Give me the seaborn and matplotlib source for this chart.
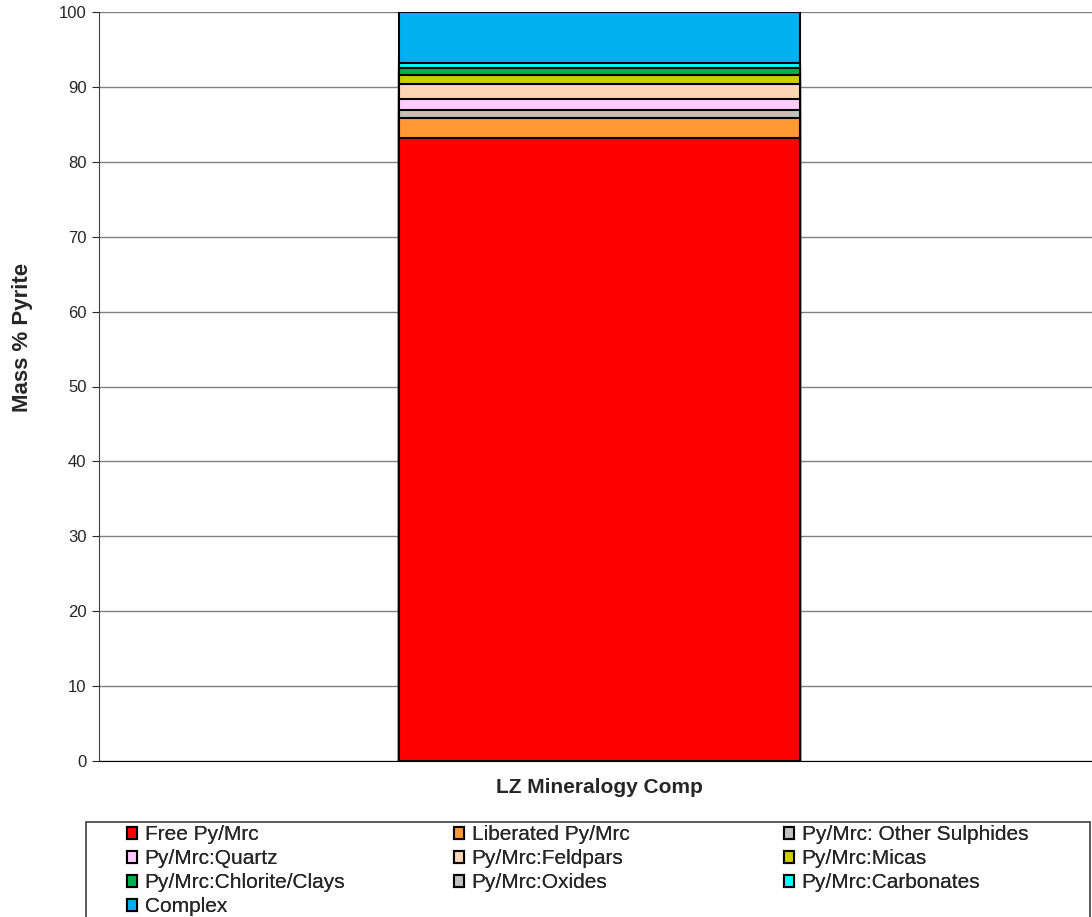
import numpy as np
import matplotlib
matplotlib.use("Agg")
import matplotlib.pyplot as plt
import seaborn as sns
import pandas as pd
from matplotlib.patches import Patch, Rectangle

sample = "LZ Mineralogy Comp"
classes = ["Free Py/Mrc", "Liberated Py/Mrc", "Py/Mrc: Other Sulphides",
           "Py/Mrc:Quartz", "Py/Mrc:Feldpars", "Py/Mrc:Micas",
           "Py/Mrc:Chlorite/Clays", "Py/Mrc:Oxides", "Py/Mrc:Carbonates",
           "Complex"]
values = [83.2, 2.6, 1.1, 1.5, 1.95, 1.2, 0.95, 0.05, 0.7, 6.75]
colors = ["#FF0000", "#FF9933", "#C0C0C0", "#FFCCFF", "#FCD5B4", "#CCCC00",
          "#00B050", "#C0C0C0", "#00FFFF", "#00B0F0"]

sns.set_style("white")
plt.rcParams["font.family"] = ["Liberation Sans", "DejaVu Sans"]
plt.rcParams["font.size"] = 12

df = pd.DataFrame({"cls": classes, "val": values})
df["cum"] = df["val"].cumsum()

W, H = 1092, 917
fig = plt.figure(figsize=(W / 100, H / 100), dpi=100)
ax = fig.add_axes([99 / W, 1 - 761 / H, 993 / W, 749 / H])

# stacked bar: draw cumulative totals from the top down
for i in reversed(range(len(df))):
    sns.barplot(x=[sample], y=[df["cum"][i]], color=colors[i], width=0.404,
                edgecolor="black", linewidth=1.5, saturation=1, ax=ax, zorder=3)

ax.set_ylim(0, 100)
ax.set_xlim(-0.504, 0.496)
ax.set_yticks(range(0, 101, 10))
ax.yaxis.grid(True, color="#808080", linewidth=1)
ax.set_axisbelow(True)
for s in ["top", "right"]:
    ax.spines[s].set_visible(False)
ax.spines["left"].set_color("#404040")
ax.spines["bottom"].set_color("black")
ax.tick_params(axis="y", direction="out", length=5, left=True, labelsize=12, pad=4)
ax.tick_params(axis="x", length=0, pad=12, labelsize=15)
for lbl in ax.get_xticklabels():
    lbl.set_fontweight("bold")
ax.set_xlabel("")
ax.set_ylabel("Mass % Pyrite", fontweight="bold", fontsize=16)
ax.yaxis.set_label_coords(-0.0665, 0.566)

# legend frame (cut off by the bottom edge, as in the original)
fig.add_artist(Rectangle((86 / W, -0.01), 1004 / W, (917 - 822) / H + 0.01,
                         transform=fig.transFigure, facecolor="none",
                         edgecolor="#404040", linewidth=1.2))

handles = [Patch(facecolor=c, edgecolor="black", linewidth=1.5, label=l)
           for c, l in zip(colors, classes)]
columns = [[0, 3, 6, 9], [1, 4, 7], [2, 5, 8]]
col_x = [127, 454, 784]
for xs, idx in zip(col_x, columns):
    leg = fig.legend([handles[k] for k in idx], [classes[k] for k in idx],
                     loc="upper left", bbox_to_anchor=(xs / W, 1 - 825 / H),
                     frameon=False, fontsize=15, handlelength=0.5,
                     handleheight=0.5, handletextpad=0.35, labelspacing=0.24,
                     borderpad=0, borderaxespad=0)
    fig.add_artist(leg)

fig.savefig("out.png", dpi=100)
